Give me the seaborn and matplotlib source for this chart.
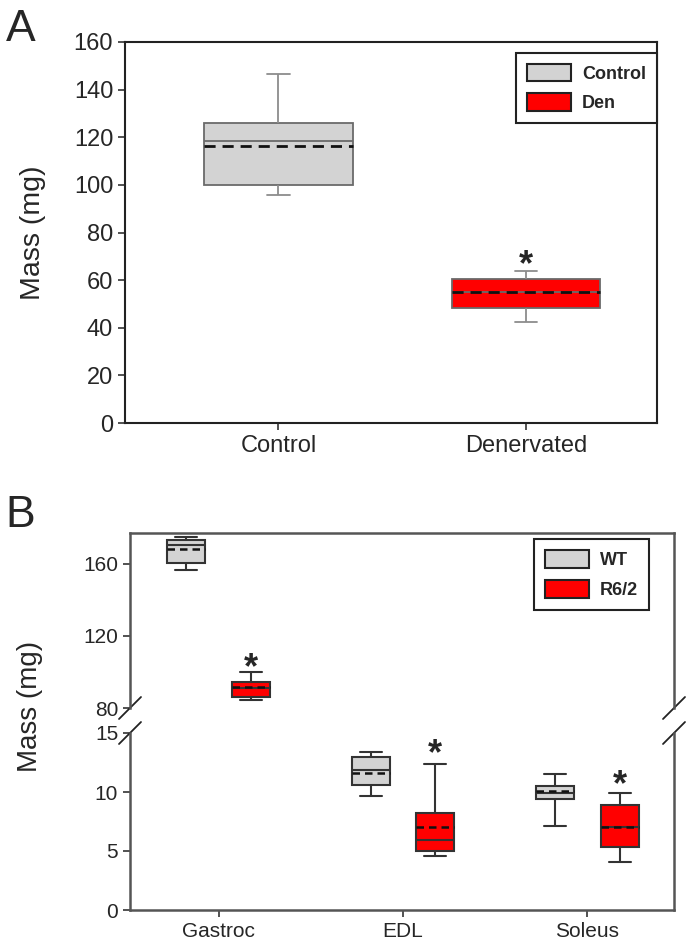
import numpy as np
import pandas as pd
import matplotlib
matplotlib.use("Agg")
import matplotlib.pyplot as plt
from matplotlib.patches import Patch
import seaborn as sns

# Panel A - five-number summaries (min, q1, median, q3, max)
a_groups = ["Control", "Denervated"]
a_legend = ["Control", "Den"]
a_control = [95.8, 100.0, 118.4, 125.8, 146.5]
a_denerv = [42.4, 48.3, 55.0, 60.5, 64.0]
a_means = [116.5, 55.0]
a_star = [None, 66.0]

# Panel B
b_muscles = ["Gastroc", "EDL", "Soleus"]
b_genotypes = ["WT", "R6/2"]
b_wt = [[156.7, 160.5, 170.6, 173.3, 175.0],
        [9.7, 10.6, 11.9, 13.0, 13.4],
        [7.1, 9.4, 9.9, 10.5, 11.5]]
b_r62 = [[84.5, 86.0, 91.0, 94.5, 100.0],
         [4.6, 5.0, 5.9, 8.2, 12.4],
         [4.1, 5.3, 7.0, 8.9, 9.9]]
b_wt_means = [168.3, 11.6, 10.1]
b_r62_means = [91.8, 7.0, 7.0]
b_stars = [102.0, 13.2, 10.5]

grey = "#d3d3d3"
red = "#ff0000"

sns.set_style("ticks")
plt.rcParams["font.family"] = ["Liberation Sans", "DejaVu Sans"]

fig = plt.figure(figsize=(6.88, 9.42), dpi=100)

# ---------------- Panel A ----------------
df_a = pd.DataFrame({
    "group": ["Control"] * 5 + ["Denervated"] * 5,
    "mass": a_control + a_denerv,
})
ax_a = fig.add_axes([125 / 688, 1 - 423 / 942, 532 / 688, 381 / 942])
sns.boxplot(data=df_a, x="group", y="mass", hue="group", order=a_groups,
            palette=[grey, red], saturation=1, width=0.6, whis=(0, 100),
            linecolor="#6a6a6a", linewidth=1.3, capwidths=0.09, legend=False,
            whiskerprops={"color": "#8c8c8c"}, capprops={"color": "#8c8c8c"},
            ax=ax_a)
for i, m in enumerate(a_means):
    ax_a.hlines(m, i - 0.3, i + 0.3, colors="#111111", linestyles=(0, (4, 2.5)), lw=2, zorder=5)
for i, s in enumerate(a_star):
    if s is not None:
        ax_a.text(i, s, "*", ha="center", va="center", fontsize=26, fontweight="bold")
ax_a.set_xlim(-0.62, 1.53)
ax_a.set_ylim(0, 160)
ax_a.set_yticks(np.arange(0, 161, 20))
ax_a.set_xlabel("")
ax_a.set_ylabel("Mass (mg)", fontsize=20.5, labelpad=20)
ax_a.tick_params(labelsize=17, length=5, width=1.2, color="#333333")
for sp in ax_a.spines.values():
    sp.set_visible(True)
    sp.set_linewidth(1.5)
    sp.set_color("#222222")
handles = [Patch(facecolor=grey, edgecolor="#222222", lw=1.5),
           Patch(facecolor=red, edgecolor="#222222", lw=1.5)]
leg = ax_a.legend(handles, a_legend, loc="upper right", bbox_to_anchor=(1.0, 0.972),
                  borderaxespad=0, fancybox=False, edgecolor="#222222", framealpha=1,
                  prop={"weight": "bold", "size": 13}, handlelength=2.45,
                  handleheight=1.15, borderpad=0.6, labelspacing=0.6, handletextpad=0.6)
leg.get_frame().set_linewidth(1.5)
fig.text(0.008, 0.99, "A", fontsize=32, va="top", ha="left")

# ---------------- Panel B ----------------
rows = []
for k, muscle in enumerate(b_muscles):
    for v in b_wt[k]:
        rows.append((muscle, "WT", v))
    for v in b_r62[k]:
        rows.append((muscle, "R6/2", v))
df_b = pd.DataFrame(rows, columns=["muscle", "genotype", "mass"])

left, right = 130 / 688, 674 / 688
ax_top = fig.add_axes([left, 1 - 708 / 942, right - left, 175 / 942])
ax_bot = fig.add_axes([left, 1 - 910 / 942, right - left, 177 / 942])
ax_top.set_ylim(80, 177)
ax_bot.set_ylim(0, 15)

off = 0.175
bw = 0.206
for ax in (ax_top, ax_bot):
    lo, hi = ax.get_ylim()
    sns.boxplot(data=df_b, x="muscle", y="mass", hue="genotype", order=b_muscles,
                hue_order=b_genotypes, palette=[grey, red], saturation=1, width=0.7,
                gap=0.41, whis=(0, 100), linecolor="#333333", linewidth=1.5,
                capwidths=0.12, legend=False, ax=ax)
    for k in range(len(b_muscles)):
        ax.hlines(b_wt_means[k], k - off - bw / 2, k - off + bw / 2, colors="#111111",
                  linestyles=(0, (3, 2)), lw=1.8, zorder=5)
        ax.hlines(b_r62_means[k], k + off - bw / 2, k + off + bw / 2, colors="#111111",
                  linestyles=(0, (3, 2)), lw=1.8, zorder=5)
        if lo <= b_stars[k] <= hi:
            ax.text(k + off, b_stars[k], "*", ha="center", va="center", fontsize=26,
                    fontweight="bold")
    ax.set_xlim(-0.48, 2.47)
    ax.set_ylim(lo, hi)
    ax.set_xlabel("")
    ax.set_ylabel("")
    ax.tick_params(labelsize=15, length=5, width=1.2, color="#333333")
    for sp in ax.spines.values():
        sp.set_visible(True)
        sp.set_linewidth(1.8)
        sp.set_color("#555555")

ax_top.set_yticks([80, 120, 160])
ax_top.spines["bottom"].set_visible(False)
ax_top.tick_params(axis="x", bottom=False, labelbottom=False)

ax_bot.set_yticks([0, 5, 10, 15])
ax_bot.spines["top"].set_visible(False)

# break marks
for ax, yy in ((ax_top, 0.0), (ax_bot, 1.0)):
    h = 175 if ax is ax_top else 177
    dx, dy = 11 / 544, 11 / h
    for xx in (0.0, 1.0):
        ax.plot([xx - dx, xx + dx], [yy - dy, yy + dy], transform=ax.transAxes,
                color="#222222", lw=1.3, clip_on=False)

handles_b = [Patch(facecolor=grey, edgecolor="#222222", lw=1.5),
             Patch(facecolor=red, edgecolor="#222222", lw=1.5)]
leg_b = ax_top.legend(handles_b, b_genotypes, loc="upper right",
                      bbox_to_anchor=(0.954, 0.965), borderaxespad=0, fancybox=False,
                      edgecolor="#222222", framealpha=1,
                      prop={"weight": "bold", "size": 13}, handlelength=2.45,
                      handleheight=1.15, borderpad=0.6, labelspacing=0.6,
                      handletextpad=0.6)
leg_b.get_frame().set_linewidth(1.5)

fig.text(0.044, 0.25, "Mass (mg)", fontsize=20, rotation=90, ha="center", va="center")
fig.text(0.008, 0.475, "B", fontsize=32, va="top", ha="left")

fig.savefig("out.png", dpi=100)
